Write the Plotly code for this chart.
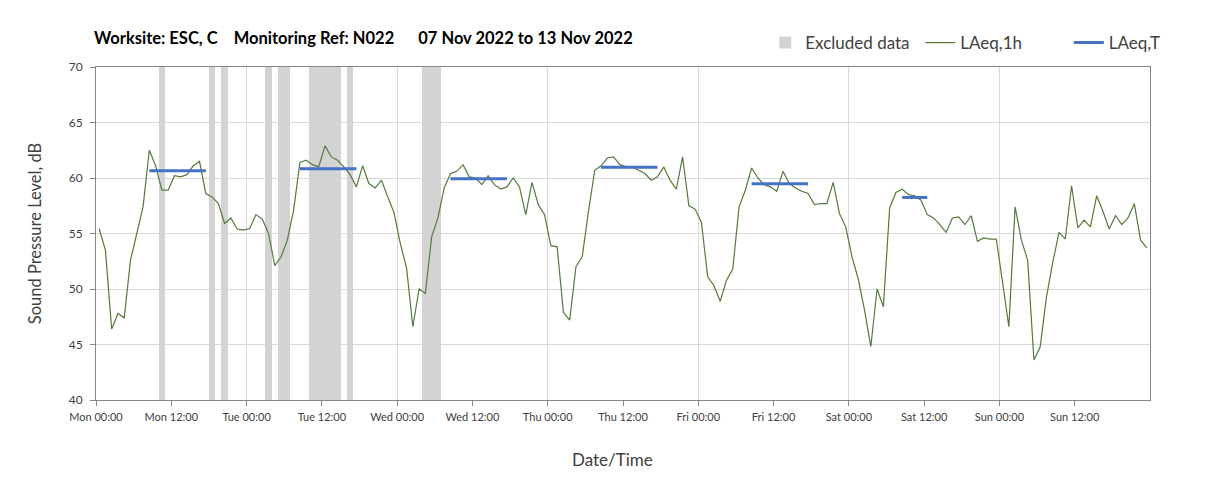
import numpy as np
import pandas as pd
import plotly.graph_objects as go

# hourly LAeq,1h values, Mon 07 Nov 2022 00:00 onwards (24 per day)
mon = [55.45, 53.5, 46.4, 47.8, 47.4, 52.6, 55.0, 57.4, 62.5, 61.1, 58.9, 58.9,
       60.2, 60.1, 60.3, 61.1, 61.5, 58.6, 58.3, 57.7, 55.9, 56.4, 55.4, 55.3]
tue = [55.45, 56.7, 56.3, 55.0, 52.1, 52.9, 54.4, 57.1, 61.4, 61.6, 61.2, 61.0,
       62.9, 61.9, 61.6, 61.0, 60.3, 59.2, 61.1, 59.5, 59.1, 59.8, 58.3, 56.9]
wed = [54.1, 51.9, 46.6, 50.0, 49.6, 54.7, 56.4, 59.1, 60.4, 60.6, 61.2, 60.1,
       60.0, 59.4, 60.2, 59.4, 59.0, 59.2, 60.0, 59.2, 56.7, 59.6, 57.6, 56.7]
thu = [53.9, 53.8, 47.9, 47.2, 52.0, 52.9, 57.0, 60.7, 61.1, 61.8, 61.9, 61.2,
       61.0, 61.0, 60.7, 60.4, 59.8, 60.1, 61.0, 59.8, 59.0, 61.9, 57.5, 57.2]
fri = [56.0, 51.1, 50.3, 48.9, 50.8, 51.8, 57.4, 58.9, 60.9, 60.0, 59.4, 59.2,
       58.8, 60.6, 59.5, 59.1, 58.8, 58.6, 57.6, 57.7, 57.7, 59.6, 56.8, 55.6]
sat = [52.9, 50.9, 48.1, 44.8, 50.0, 48.4, 57.3, 58.7, 59.0, 58.5, 58.4, 58.0,
       56.7, 56.4, 55.8, 55.1, 56.4, 56.5, 55.8, 56.6, 54.3, 54.6, 54.5, 54.5]
sun = [50.6, 46.6, 57.4, 54.4, 52.6, 43.6, 44.8, 49.3, 52.4, 55.1, 54.5, 59.3,
       55.5, 56.2, 55.6, 58.4, 57.0, 55.4, 56.6, 55.8, 56.4, 57.7, 54.4, 53.7]
laeq_1h = mon + tue + wed + thu + fri + sat + sun

# LAeq,T per day (Mon..Sat), period start/end hour
laeq_t = [60.66, 60.84, 59.94, 60.96, 59.49, 58.25]
period_start = [8, 8, 8, 8, 8, 8]
period_end = [17, 17, 17, 17, 17, 12]

# excluded hours: start hour from Mon 00:00, duration in hours
excl_start = [10, 18, 20, 27, 29, 34, 40, 52]
excl_dur = [1, 1, 1, 1, 2, 5, 1, 3]

t0 = pd.Timestamp("2022-11-07 00:00")
t_end = pd.Timestamp("2022-11-14 00:00")
times = t0 + pd.to_timedelta(np.arange(len(laeq_1h)) + 0.5, unit="h")
tick_vals = pd.date_range(t0, periods=14, freq="12h")

bx = [t0 + pd.Timedelta(hours=s + d / 2) for s, d in zip(excl_start, excl_dur)]
bw = [d * 3600000 for d in excl_dur]

tx, ty = [], []
for d, (v, s, e) in enumerate(zip(laeq_t, period_start, period_end)):
    day = t0 + pd.Timedelta(days=d)
    tx += [day + pd.Timedelta(hours=s + 0.5), day + pd.Timedelta(hours=e + 0.5), None]
    ty += [v, v, None]

font = "Lato, 'Open Sans', sans-serif"
grid = "#d9d9d9"
axc = "#868686"

fig = go.Figure()
fig.add_trace(go.Bar(x=bx, y=[30] * len(bx), base=40, width=bw,
                     marker=dict(color="#d3d3d3", line=dict(width=0)),
                     name="Excluded data"))
fig.add_trace(go.Scatter(x=times, y=laeq_1h, mode="lines", name="LAeq,1h",
                         line=dict(color="#557a3f", width=1.2)))
fig.add_trace(go.Scatter(x=tx, y=ty, mode="lines", name="LAeq,T",
                         line=dict(color="#4472c4", width=3), xaxis="x2",
                         legend="legend2"))

leg = dict(orientation="h", xanchor="left", y=1.072, yanchor="middle",
           font=dict(size=17, color="#404040"), bgcolor="rgba(0,0,0,0)")

fig.update_layout(
    width=1208, height=493,
    margin=dict(l=96, r=58, t=67, b=93),
    paper_bgcolor="white", plot_bgcolor="white",
    font=dict(family=font, color="#404040", size=12),
    title=dict(text="<b>Worksite: ESC, C&nbsp;&nbsp;&nbsp;&nbsp;Monitoring Ref: N022"
                    "&nbsp;&nbsp;&nbsp;&nbsp;&nbsp;&nbsp;07 Nov 2022 to 13 Nov 2022</b>",
               x=94 / 1208, xanchor="left", y=1 - 38 / 493, yanchor="middle",
               font=dict(size=16.5, color="black", family=font)),
    showlegend=True,
    legend=dict(leg, x=0.635, traceorder="normal", entrywidth=110,
                entrywidthmode="pixels"),
    legend2=dict(leg, x=0.923),
    bargap=0,
    xaxis=dict(type="date", range=[t0, t_end], tickmode="array",
               tickvals=tick_vals, tickformat="%a %H:%M", showgrid=False,
               ticks="outside", ticklen=5, tickcolor=axc, showline=True,
               linecolor=axc, mirror=True, tickfont=dict(size=11),
               automargin=False, ticklabelstandoff=2),
    xaxis2=dict(type="date", range=[t0, t_end], overlaying="x", dtick=86400000,
                tick0=t0, showgrid=True, gridcolor=grid, showticklabels=False,
                ticks="", showline=False, zeroline=False),
    yaxis=dict(range=[40, 70], dtick=5, showgrid=True, gridcolor=grid,
               ticks="outside", ticklen=5, tickcolor=axc, showline=True,
               linecolor=axc, mirror=True, zeroline=False, automargin=False,
               tickfont=dict(size=12), ticklabelstandoff=5,
               title=dict(text="Sound Pressure Level, dB", font=dict(size=16.5),
                          standoff=22)),
    annotations=[dict(text="Date/Time", xref="paper", yref="paper",
                      x=0.4905, y=-0.18, xanchor="center", yanchor="middle",
                      showarrow=False, font=dict(size=17, color="#404040"))],
)

fig.write_html("out.html", post_script="document.body.style.margin='0';",
               config={"displayModeBar": False})
